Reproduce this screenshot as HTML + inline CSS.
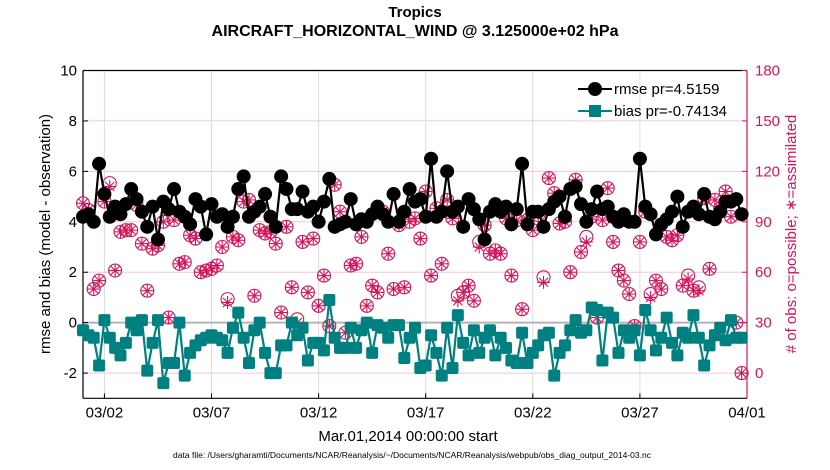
<!DOCTYPE html>
<html><head><meta charset="utf-8"><style>
body{margin:0;background:#fff}
svg{display:block;font-family:"Liberation Sans",sans-serif}
</style></head><body>
<svg id="chart" width="830" height="470">
<rect width="830" height="470" fill="#fff"/>
<text x="415" y="17" text-anchor="middle" font-size="15" font-weight="bold">Tropics</text>
<text x="415" y="36" text-anchor="middle" font-size="16" font-weight="bold">AIRCRAFT_HORIZONTAL_WIND @ 3.125000e+02 hPa</text>
<g id="grid"></g>
<g id="axes"></g>
<g id="marks"></g>
<text x="408" y="441" text-anchor="middle" font-size="15">Mar.01,2014 00:00:00 start</text>
<text x="412" y="458" text-anchor="middle" font-size="8.5">data file: /Users/gharamti/Documents/NCAR/Reanalysis/~/Documents/NCAR/Reanalysis/webpub/obs_diag_output_2014-03.nc</text>
<text transform="translate(50,234) rotate(-90)" text-anchor="middle" font-size="15">rmse and bias (model - observation)</text>
<text transform="translate(796,234) rotate(-90)" text-anchor="middle" font-size="15" fill="#d4145a"># of obs: o=possible; ∗=assimilated</text>
<g id="legend">
<line x1="578" y1="89" x2="612" y2="89" stroke="#000" stroke-width="2"/>
<circle cx="595" cy="89" r="7" fill="#000"/>
<text x="614" y="94" font-size="15">rmse pr=4.5159</text>
<line x1="578" y1="111" x2="612" y2="111" stroke="#008080" stroke-width="2"/>
<rect x="589" y="105" width="12" height="12" fill="#008080"/>
<text x="614" y="116" font-size="15">bias pr=-0.74134</text>
</g>
</svg>
<script>
const rmse=[4.2,4.3,4.0,6.3, 5.1,4.2,4.6,4.3, 4.7,5.3,4.9,4.4, 3.8,4.6,3.3,4.8, 4.5,5.3,4.4,4.2, 3.9,4.9,4.6,3.5, 4.7,4.2,4.3,3.8, 4.2,5.3,5.8,4.2, 4.4,4.6,5.1,4.2, 3.8,5.8,5.3,4.5, 4.5,5.2,4.4,4.6, 4.0,4.8,5.7,3.8, 3.9,4.0,4.9,3.9, 4.1,4.0,4.3,4.6, 4.3,4.0,5.1,4.0, 4.4,5.3,4.8,4.9, 4.2,6.5,4.2,4.4, 6.0,4.4,4.6,3.8, 4.9,4.5,4.1,3.3, 4.4,4.7,4.4,4.6, 3.9,4.5,6.3,3.9, 4.4,4.4,3.8,4.5, 4.8,5.0,4.2,5.3, 5.4,4.7,4.0,4.5, 5.2,4.5,4.6,4.2, 4.0,4.3,4.0,4.0, 6.5,4.6,4.3,3.5, 3.9,4.1,4.4,5.0, 3.8,4.4,4.6,4.3, 5.1,4.2,4.1,4.4, 4.8,4.8,4.9,4.3];
const bias=[-0.3,-0.5,-0.6,-1.7, 0.1,-0.6,-1.0,-1.3, -0.8,0.0,-0.3,0.1, -1.9,-0.8,0.1,-2.4, -1.6,-1.6,0.0,-2.1, -1.2,-0.9,-0.7,-0.6, -0.5,-0.6,-0.7,-1.2, -0.2,0.4,-0.6,-1.6, -0.3,0.0,-1.2,-2.0, -2.0,-0.9,-0.9,0.0, -0.5,-0.2,-1.5,-0.8, -0.8,-1.1,0.9,-0.6, -1.0,-1.0,-0.2,-1.0, -0.3,0.0,-1.2,-0.1, -0.2,-0.6,-0.1,-0.1, -1.4,-0.6,-0.2,-1.8, -1.7,-0.5,-1.2,-2.1, -0.2,-1.8,0.3,-0.8, -1.3,-0.3,-1.2,-0.6, -0.3,-1.3,-0.6,-1.0, -1.5,-1.6,-0.4,-1.6, -1.2,-0.9,-0.5,-0.4, -2.1,-1.2,-0.9,-0.3, 0.1,-0.4,-0.3,0.6, 0.5,-1.5,0.4,0.2, -1.2,-0.3,-0.6,-0.3, -1.3,0.5,-0.3,-1.1, -0.6,0.2,-0.8,-1.3, -0.4,-0.6,0.3,-0.6, -1.7,-0.9,-0.5,-0.2, -0.7,0.1,-0.6,-0.6];
const nPossible=[101,97,50,55, 102,113,61,84, 85,85,100,77, 49,74,76,90, 33,91,65,66, 82,80,60,61, 62,64,75,44, 81,79,102,103, 46,85,83,84, 77,36,87,51, 32,78,48,80, 40,58,28,112, 96,24,64,65, 81,40,52,48, 96,71,50,88, 51,90,92,80, 108,58,98,65, 103,92,46,48, 52,43,78,88, 71,73,71,92, 58,91,38,91, 85,94,57,116, 107,89,90,60, 115,72,81,93, 33,91,110,78, 61,55,47,28, 78,96,47,55, 50,81,79,82, 52,58,49,51, 104,62,103,98, 108,93,30,0];
const nAssim=[101,97,50,55, 102,111,61,84, 85,85,100,77, 49,74,76,90, 33,91,65,66, 82,80,60,61, 62,64,75,42, 81,79,102,103, 46,85,83,84, 77,36,87,51, 30,78,48,80, 40,58,28,112, 96,24,64,65, 81,40,52,48, 96,71,50,88, 51,90,92,80, 108,58,98,65, 103,92,43,48, 52,43,75,88, 71,73,71,92, 58,91,38,91, 85,94,54,116, 107,89,90,60, 115,72,78,93, 33,91,110,78, 61,55,47,28, 78,96,45,55, 50,81,79,82, 52,56,49,49, 104,62,103,98, 108,93,30,0];
const xTickLabels=["03/02","03/07","03/12","03/17","03/22","03/27","04/01"];
const xTickDays=[1,6,11,16,21,26,31];
const yLeftTicks=[-2,0,2,4,6,8,10];
const yRightTicks=[0,30,60,90,120,150,180];

const NS="http://www.w3.org/2000/svg";
const L=83,R=747,T=70.5,B=398.3;
const xs=d=>L+(R-L)*d/31;
const yl=v=>B-(B-T)*(v+3)/13;
const yr=v=>B-(B-T)*(v+15)/195;
const PINK="#d4145a",TEAL="#008080";
function mk(tag,attrs,parent){const e=document.createElementNS(NS,tag);for(const k in attrs)e.setAttribute(k,attrs[k]);parent.appendChild(e);return e;}
const grid=document.getElementById('grid'),axes=document.getElementById('axes'),marks=document.getElementById('marks');

yRightTicks.forEach(v=>{const g=mk('line',{x1:L,x2:R,y1:yr(v),y2:yr(v),stroke:'#f3c6d6','stroke-width':1},grid);

});
xTickDays.forEach((d,i)=>{const g=mk('line',{x1:xs(d),x2:xs(d),y1:T,y2:B,stroke:'#dcdcdc','stroke-width':1},grid);


const t=mk('text',{x:xs(d),y:B+19,'text-anchor':'middle','font-size':15},axes);t.textContent=xTickLabels[i];


mk('line',{x1:xs(d),x2:xs(d),y1:B,y2:B-5,stroke:'#000'},axes);});
const zl=mk('line',{x1:L,x2:R,y1:yl(0),y2:yl(0),stroke:'#b4b4b4','stroke-width':2},grid);



mk('line',{x1:L,x2:L,y1:T,y2:B,stroke:'#000','stroke-width':1.2},axes);
mk('line',{x1:L,x2:R,y1:B,y2:B,stroke:'#000','stroke-width':1.2},axes);
mk('line',{x1:L,x2:R,y1:T,y2:T,stroke:'#000','stroke-width':1.2},axes);
mk('line',{x1:R,x2:R,y1:T,y2:B,stroke:PINK,'stroke-width':1.2},axes);
yLeftTicks.forEach(v=>{mk('line',{x1:L,x2:L+5,y1:yl(v),y2:yl(v),stroke:'#000'},axes);
const t=mk('text',{x:L-6,y:yl(v)+5,'text-anchor':'end','font-size':15},axes);t.textContent=v;

});
yRightTicks.forEach(v=>{mk('line',{x1:R,x2:R-5,y1:yr(v),y2:yr(v),stroke:PINK},axes);
const t=mk('text',{x:R+8,y:yr(v)+5,'font-size':15,fill:PINK},axes);t.textContent=v;

});

const tx=i=>xs(i*0.25);
nPossible.forEach((v,i)=>{const c=mk('circle',{cx:tx(i),cy:yr(v),r:6.5,fill:'none',stroke:PINK,'stroke-width':1.1},marks);

});
nAssim.forEach((v,i)=>{const g=mk('g',{stroke:PINK,'stroke-width':1.1},marks);


const x=tx(i),y=yr(v),r=6.5;
for(let k=0;k<4;k++){const a=k*Math.PI/4;mk('line',{x1:x-r*Math.cos(a),y1:y-r*Math.sin(a),x2:x+r*Math.cos(a),y2:y+r*Math.sin(a)},g);}});
const rp=mk('polyline',{points:rmse.map((v,i)=>tx(i)+','+yl(v)).join(' '),fill:'none',stroke:'#000','stroke-width':2.2},marks);


rmse.forEach((v,i)=>{const c=mk('circle',{cx:tx(i),cy:yl(v),r:7,fill:'#000'},marks);

});
const bp=mk('polyline',{points:bias.map((v,i)=>tx(i)+','+yl(v)).join(' '),fill:'none',stroke:TEAL,'stroke-width':2.2},marks);


bias.forEach((v,i)=>{const c=mk('rect',{x:tx(i)-6,y:yl(v)-6,width:12,height:12,rx:2,fill:TEAL},marks);

});
</script>
</body></html>
